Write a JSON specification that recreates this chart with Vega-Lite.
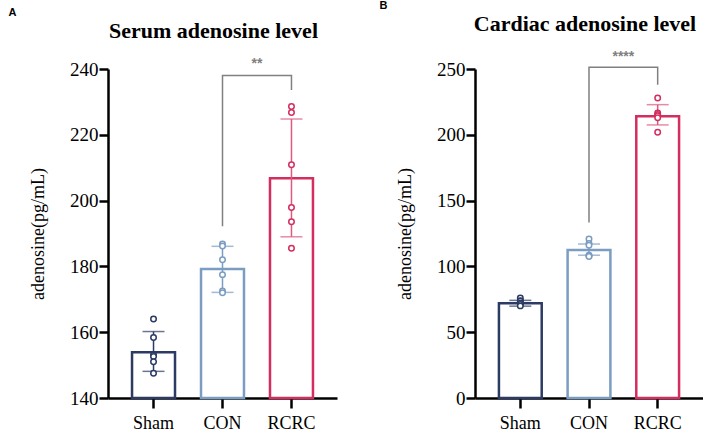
{
  "$schema": "https://vega.github.io/schema/vega-lite/v6.json",
  "background": "white",
  "padding": {"left": 8, "top": 0, "right": 0, "bottom": 0},
  "spacing": 42,
  "datasets": {
    "sumA": [
      {"group": "Sham", "mean": 153.9, "lo": 148.1, "hi": 160.2},
      {"group": "CON", "mean": 179.2, "lo": 172.1, "hi": 186.1},
      {"group": "RCRC", "mean": 206.8, "lo": 189.0, "hi": 224.8}
    ],
    "ptsA": [
      {"group": "Sham", "value": 164.0}, {"group": "Sham", "value": 158.4}, {"group": "Sham", "value": 153.1},
      {"group": "Sham", "value": 152.6}, {"group": "Sham", "value": 151.0}, {"group": "Sham", "value": 147.5},
      {"group": "CON", "value": 186.8}, {"group": "CON", "value": 186.2}, {"group": "CON", "value": 182.0},
      {"group": "CON", "value": 177.5}, {"group": "CON", "value": 172.5}, {"group": "CON", "value": 172.0},
      {"group": "RCRC", "value": 228.6}, {"group": "RCRC", "value": 226.8}, {"group": "RCRC", "value": 210.9},
      {"group": "RCRC", "value": 197.9}, {"group": "RCRC", "value": 193.6}, {"group": "RCRC", "value": 185.5}
    ],
    "brA": [
      {"group": "CON", "value": 192.2, "ord": 1},
      {"group": "CON", "value": 238.0, "ord": 2},
      {"group": "RCRC", "value": 238.0, "ord": 3},
      {"group": "RCRC", "value": 233.6, "ord": 4}
    ],
    "sigA": [{"group": "CON", "value": 241.5, "label": "**"}],
    "sumB": [
      {"group": "Sham", "mean": 72.0, "lo": 69.8, "hi": 74.2},
      {"group": "CON", "mean": 112.5, "lo": 108.5, "hi": 117.0},
      {"group": "RCRC", "mean": 214.1, "lo": 207.5, "hi": 222.9}
    ],
    "ptsB": [
      {"group": "Sham", "value": 76.0}, {"group": "Sham", "value": 74.0}, {"group": "Sham", "value": 73.5},
      {"group": "Sham", "value": 72.0}, {"group": "Sham", "value": 71.0}, {"group": "Sham", "value": 70.0},
      {"group": "CON", "value": 120.8}, {"group": "CON", "value": 117.5}, {"group": "CON", "value": 116.0},
      {"group": "CON", "value": 108.5}, {"group": "CON", "value": 108.0}, {"group": "CON", "value": 107.5},
      {"group": "RCRC", "value": 228.0}, {"group": "RCRC", "value": 216.5}, {"group": "RCRC", "value": 215.5},
      {"group": "RCRC", "value": 214.5}, {"group": "RCRC", "value": 213.0}, {"group": "RCRC", "value": 202.0}
    ],
    "brB": [
      {"group": "CON", "value": 133.4, "ord": 1},
      {"group": "CON", "value": 251.3, "ord": 2},
      {"group": "RCRC", "value": 251.3, "ord": 3},
      {"group": "RCRC", "value": 238.0, "ord": 4}
    ],
    "sigB": [{"group": "CON", "value": 259.0, "label": "****"}]
  },
  "config": {
    "view": {"stroke": null},
    "axis": {
      "domainColor": "black", "domainWidth": 2.5, "tickColor": "black", "tickWidth": 2.5,
      "labelFont": "Liberation Serif", "labelColor": "black", "grid": false,
      "titleFont": "Liberation Serif", "titleFontWeight": "normal", "titleColor": "black"
    },
    "axisX": {"labelFontSize": 18, "labelAngle": 0, "tickSize": 10, "labelPadding": 6, "title": null},
    "axisY": {"labelFontSize": 19, "tickSize": 9, "labelPadding": 1, "titleFontSize": 18, "titlePadding": 22}
  },
  "hconcat": [
    {
      "title": {"text": "A", "anchor": "start", "frame": "bounds", "font": "Liberation Sans", "fontSize": 11, "fontWeight": "bold", "color": "black", "dx": -21, "offset": 2},
      "vconcat": [
        {
          "width": 229, "height": 329,
          "title": {"text": "Serum adenosine level", "font": "Liberation Serif", "fontSize": 22, "fontWeight": "bold", "color": "black", "offset": 14, "dx": -9},
          "encoding": {
            "x": {"field": "group", "type": "nominal", "sort": ["Sham", "CON", "RCRC"], "scale": {"paddingInner": 0, "paddingOuter": 0.16}, "axis": {"title": null}},
            "y": {"type": "quantitative", "scale": {"domain": [140, 240], "nice": false, "zero": false}, "axis": {"values": [140, 160, 180, 200, 220, 240], "title": "adenosine(pg/mL)"}}
          },
          "layer": [
            {"data": {"name": "sumA"}, "mark": {"type": "bar", "fill": "white", "strokeWidth": 2.5, "width": {"band": 0.623}},
             "encoding": {"y": {"field": "mean", "type": "quantitative"}, "y2": {"datum": 140},
               "stroke": {"field": "group", "type": "nominal", "scale": {"domain": ["Sham", "CON", "RCRC"], "range": ["#2c3b63", "#7b9dc2", "#d42d5f"]}, "legend": null}}},
            {"data": {"name": "sumA"}, "mark": {"type": "rule", "strokeWidth": 1.5},
             "encoding": {"y": {"field": "lo", "type": "quantitative"}, "y2": {"field": "hi"}, "color": {"field": "group", "type": "nominal", "scale": {"domain": ["Sham", "CON", "RCRC"], "range": ["#2c3b63", "#7b9dc2", "#dc5a80"]}, "legend": null}}},
            {"data": {"name": "sumA"}, "mark": {"type": "tick", "size": 22, "thickness": 1.5},
             "encoding": {"y": {"field": "lo", "type": "quantitative"}, "color": {"field": "group", "type": "nominal", "legend": null}}},
            {"data": {"name": "sumA"}, "mark": {"type": "tick", "size": 22, "thickness": 1.5},
             "encoding": {"y": {"field": "hi", "type": "quantitative"}, "color": {"field": "group", "type": "nominal", "legend": null}}},
            {"data": {"name": "ptsA"}, "mark": {"type": "point", "shape": "circle", "filled": false, "fill": "white", "fillOpacity": 1, "size": 30, "strokeWidth": 1.5, "opacity": 1},
             "encoding": {"y": {"field": "value", "type": "quantitative"}, "stroke": {"field": "group", "type": "nominal", "legend": null}}},
            {"data": {"name": "brA"}, "mark": {"type": "line", "color": "#808080", "strokeWidth": 1.5},
             "encoding": {"y": {"field": "value", "type": "quantitative"}, "order": {"field": "ord"}}},
            {"data": {"name": "sigA"}, "mark": {"type": "text", "color": "#808080", "fontSize": 14, "fontWeight": "bold", "baseline": "middle", "align": "center"},
             "encoding": {"x": {"field": "group", "type": "nominal", "bandPosition": 1}, "y": {"field": "value", "type": "quantitative"}, "text": {"field": "label"}}}
          ]
        }
      ]
    },
    {
      "title": {"text": "B", "anchor": "start", "frame": "bounds", "font": "Liberation Sans", "fontSize": 11, "fontWeight": "bold", "color": "black", "dx": -17, "offset": 2},
      "vconcat": [
        {
          "width": 228, "height": 329,
          "title": {"text": "Cardiac adenosine level", "font": "Liberation Serif", "fontSize": 22, "fontWeight": "bold", "color": "black", "offset": 14, "dx": -4},
          "encoding": {
            "x": {"field": "group", "type": "nominal", "sort": ["Sham", "CON", "RCRC"], "scale": {"paddingInner": 0, "paddingOuter": 0.16}, "axis": {"title": null}},
            "y": {"type": "quantitative", "scale": {"domain": [0, 250], "nice": false}, "axis": {"values": [0, 50, 100, 150, 200, 250], "title": "adenosine(pg/mL)"}}
          },
          "layer": [
            {"data": {"name": "sumB"}, "mark": {"type": "bar", "fill": "white", "strokeWidth": 2.5, "width": {"band": 0.623}},
             "encoding": {"y": {"field": "mean", "type": "quantitative"}, "y2": {"datum": 0},
               "stroke": {"field": "group", "type": "nominal", "scale": {"domain": ["Sham", "CON", "RCRC"], "range": ["#2c3b63", "#7b9dc2", "#d42d5f"]}, "legend": null}}},
            {"data": {"name": "sumB"}, "mark": {"type": "rule", "strokeWidth": 1.5},
             "encoding": {"y": {"field": "lo", "type": "quantitative"}, "y2": {"field": "hi"}, "color": {"field": "group", "type": "nominal", "scale": {"domain": ["Sham", "CON", "RCRC"], "range": ["#2c3b63", "#7b9dc2", "#dc5a80"]}, "legend": null}}},
            {"data": {"name": "sumB"}, "mark": {"type": "tick", "size": 22, "thickness": 1.5},
             "encoding": {"y": {"field": "lo", "type": "quantitative"}, "color": {"field": "group", "type": "nominal", "legend": null}}},
            {"data": {"name": "sumB"}, "mark": {"type": "tick", "size": 22, "thickness": 1.5},
             "encoding": {"y": {"field": "hi", "type": "quantitative"}, "color": {"field": "group", "type": "nominal", "legend": null}}},
            {"data": {"name": "ptsB"}, "mark": {"type": "point", "shape": "circle", "filled": false, "fill": "white", "fillOpacity": 1, "size": 30, "strokeWidth": 1.5, "opacity": 1},
             "encoding": {"y": {"field": "value", "type": "quantitative"}, "stroke": {"field": "group", "type": "nominal", "legend": null}}},
            {"data": {"name": "brB"}, "mark": {"type": "line", "color": "#808080", "strokeWidth": 1.5},
             "encoding": {"y": {"field": "value", "type": "quantitative"}, "order": {"field": "ord"}}},
            {"data": {"name": "sigB"}, "mark": {"type": "text", "color": "#808080", "fontSize": 14, "fontWeight": "bold", "baseline": "middle", "align": "center"},
             "encoding": {"x": {"field": "group", "type": "nominal", "bandPosition": 1}, "y": {"field": "value", "type": "quantitative"}, "text": {"field": "label"}}}
          ]
        }
      ]
    }
  ]
}
